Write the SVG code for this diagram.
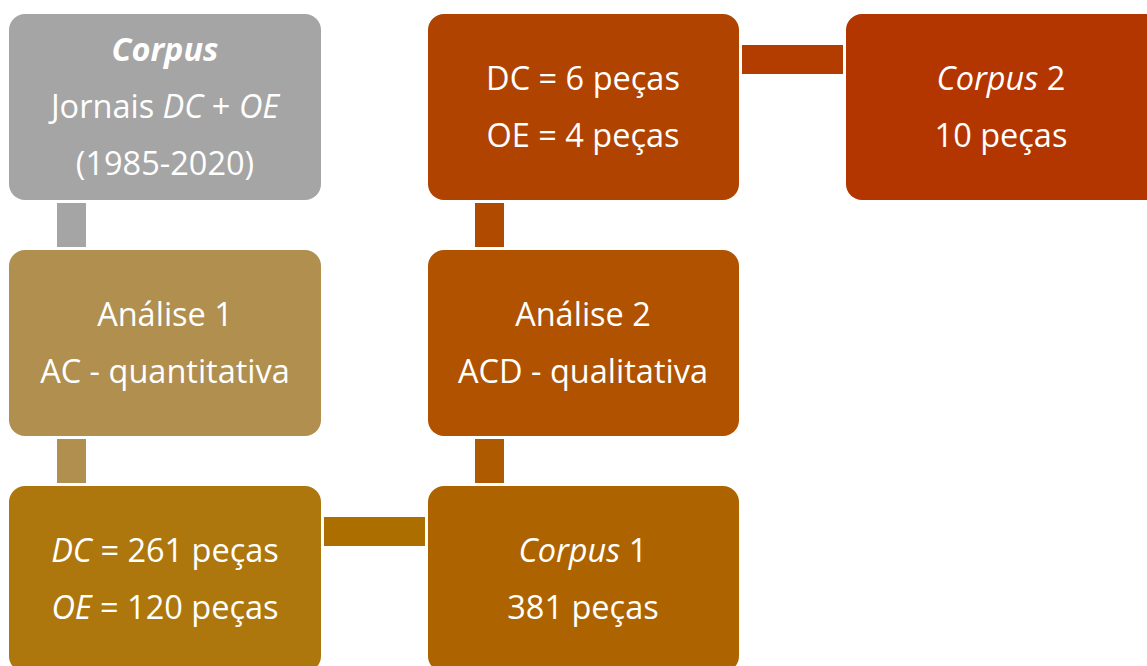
<svg xmlns="http://www.w3.org/2000/svg" width="1147" height="666" viewBox="0 0 1147 666">
<style>
.t{font-family:"Open Sans","Liberation Sans",sans-serif;font-size:32.5px;fill:#fff;text-anchor:middle}
.i{font-style:italic}
.b{font-weight:bold}
</style>
<rect width="1147" height="666" fill="#fff"/>
<g id="connectors">
<rect x="57" y="203" width="29" height="44" fill="#A5A5A5"/>
<rect x="57" y="439" width="29" height="44" fill="#B08F4F"/>
<rect x="324" y="517" width="101" height="29" fill="#AD6E00"/>
<rect x="475" y="439" width="29" height="44" fill="#AE5A00"/>
<rect x="475" y="203" width="29" height="44" fill="#B04A00"/>
<rect x="742" y="45" width="101" height="29" fill="#B33C00"/>
</g>
<g id="n1">
<rect x="9" y="14" width="312" height="186" rx="16" fill="#A5A5A5"/>
<text class="t" x="165" y="61"><tspan class="i b">Corpus</tspan></text>
<text class="t" x="165" y="118">Jornais <tspan class="i">DC</tspan> + <tspan class="i">OE</tspan></text>
<text class="t" x="165" y="175">(1985-2020)</text>
</g>
<g id="n2">
<rect x="9" y="250" width="312" height="186" rx="16" fill="#B08F4F"/>
<text class="t" x="165" y="326">Análise 1</text>
<text class="t" x="165" y="383">AC - quantitativa</text>
</g>
<g id="n3">
<rect x="9" y="486" width="312" height="186" rx="16" fill="#AD770E"/>
<text class="t" x="165" y="562"><tspan class="i">DC</tspan> = 261 peças</text>
<text class="t" x="165" y="619"><tspan class="i">OE</tspan> = 120 peças</text>
</g>
<g id="n4">
<rect x="428" y="486" width="311" height="186" rx="16" fill="#AD6400"/>
<text class="t" x="583" y="562"><tspan class="i">Corpus</tspan> 1</text>
<text class="t" x="583" y="619">381 peças</text>
</g>
<g id="n5">
<rect x="428" y="250" width="311" height="186" rx="16" fill="#B05200"/>
<text class="t" x="583" y="326">Análise 2</text>
<text class="t" x="583" y="383">ACD - qualitativa</text>
</g>
<g id="n6">
<rect x="428" y="14" width="311" height="186" rx="16" fill="#B04300"/>
<text class="t" x="583" y="90">DC = 6 peças</text>
<text class="t" x="583" y="147">OE = 4 peças</text>
</g>
<g id="n7">
<rect x="846" y="14" width="320" height="186" rx="16" fill="#B33500"/>
<text class="t" x="1001" y="90"><tspan class="i">Corpus</tspan> 2</text>
<text class="t" x="1001" y="147">10 peças</text>
</g>
</svg>
